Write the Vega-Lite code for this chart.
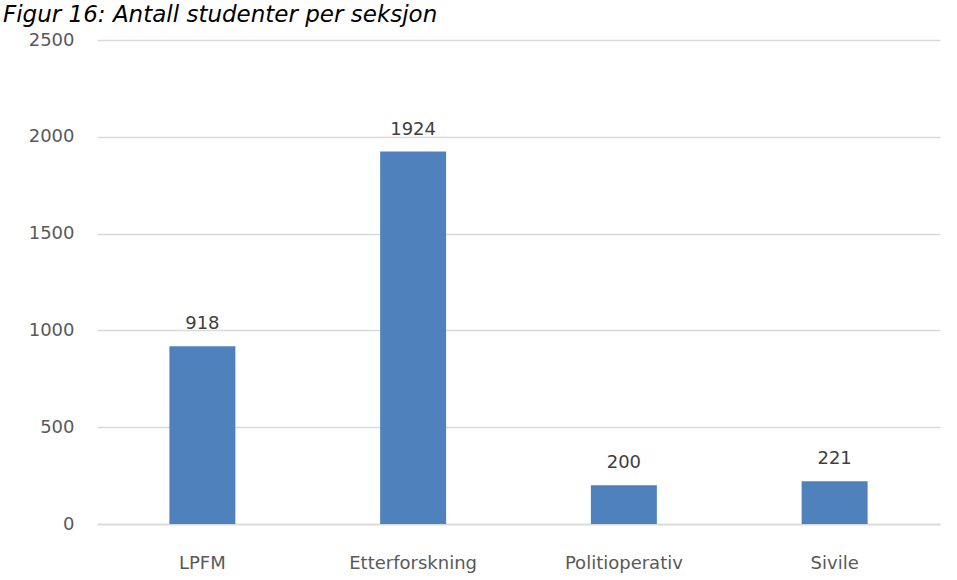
{
  "$schema": "https://vega.github.io/schema/vega-lite/v6.json",
  "width": 843,
  "height": 484,
  "autosize": {"type": "none"},
  "padding": {"left": 97, "top": 40, "right": 17, "bottom": 56},
  "background": "white",
  "title": {
    "text": "Figur 16: Antall studenter per seksjon",
    "anchor": "start",
    "frame": "group",
    "font": "DejaVu Sans",
    "fontStyle": "italic",
    "fontWeight": "normal",
    "fontSize": 23,
    "color": "#000000",
    "baseline": "alphabetic",
    "dx": -94,
    "offset": -14
  },
  "config": {
    "view": {"stroke": null},
    "font": "DejaVu Sans"
  },
  "data": {
    "values": [
      {"seksjon": "LPFM", "antall": 918},
      {"seksjon": "Etterforskning", "antall": 1924},
      {"seksjon": "Politioperativ", "antall": 200},
      {"seksjon": "Sivile", "antall": 221}
    ]
  },
  "encoding": {
    "x": {
      "field": "seksjon",
      "type": "nominal",
      "sort": null,
      "scale": {"paddingInner": 0.687, "paddingOuter": 0.3435},
      "axis": {
        "title": null,
        "labelAngle": 0,
        "labelFont": "DejaVu Sans",
        "labelFontSize": 18,
        "labelColor": "#595959",
        "labelPadding": 30,
        "ticks": false,
        "domain": true,
        "domainColor": "#D9D9D9",
        "domainWidth": 1.5,
        "grid": false
      }
    },
    "y": {
      "field": "antall",
      "type": "quantitative",
      "scale": {"domain": [0, 2500], "nice": false},
      "axis": {
        "title": null,
        "format": "d",
        "values": [0, 500, 1000, 1500, 2000, 2500],
        "labelFont": "DejaVu Sans",
        "labelFontSize": 18,
        "labelColor": "#595959",
        "labelPadding": 23,
        "ticks": false,
        "domain": false,
        "grid": true,
        "gridColor": "#D9D9D9",
        "gridWidth": 1.5
      }
    }
  },
  "layer": [
    {"mark": {"type": "bar", "color": "#4F81BD"}},
    {
      "mark": {
        "type": "text",
        "baseline": "alphabetic",
        "dy": -17,
        "font": "DejaVu Sans",
        "fontSize": 18,
        "color": "#404040"
      },
      "encoding": {"text": {"field": "antall", "type": "quantitative", "format": "d"}}
    }
  ]
}
